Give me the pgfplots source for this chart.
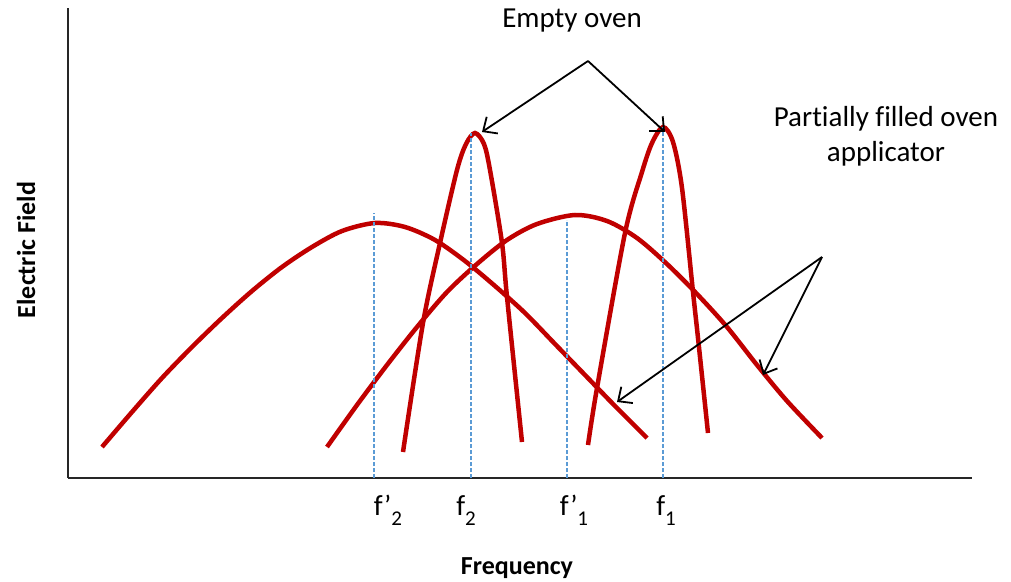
\documentclass[border=0pt]{standalone}
\usepackage{pgfplots}
\usepackage{fontspec}
\setmainfont{Carlito}[Ligatures=NoCommon]
\pgfplotsset{compat=1.18}
\usetikzlibrary{arrows.meta}

\definecolor{curvered}{RGB}{192,0,0}
\definecolor{guideblue}{RGB}{91,155,213}

\tikzset{
  callout/.style={black, line width=1.8pt, -{Straight Barb[length=11pt, width=20pt, line width=1.8pt]}},
  lbl/.style={anchor=base, font=\fontsize{29}{35}\selectfont},
}
\newcommand{\sub}[1]{\raisebox{-10pt}{\fontsize{21}{21}\selectfont #1}}

\begin{document}
\begin{tikzpicture}
\begin{axis}[
    scale only axis,
    width=904pt, height=470pt,
    xmin=68, xmax=972, ymin=0, ymax=470,
    axis lines=left,
    axis line style={-, line width=1.4pt, black!85},
    xtick=\empty, ytick=\empty,
    clip=false,
]
% partially filled oven (wide, shifted down)
\addplot [curvered, line width=4.5pt, smooth] coordinates {
    (102,31) (132,66) (162,100) (192,131) (222,160) (252,187) (282,211)
    (312,231) (342,247) (375,255) (405,251) (435,238) (465,217) (495,192)
    (525,165) (555,134) (585,103) (615,72) (647,40)};
\addplot [curvered, line width=4.5pt, smooth] coordinates {
    (327,31) (357,73) (387,113) (417,151) (447,186) (477,214) (507,238)
    (537,254) (575,263) (607,257) (637,240) (667,214) (697,184) (727,151)
    (757,113) (787,77) (822,40)};
% empty oven (narrow)
\addplot [curvered, line width=4.5pt, smooth] coordinates {
    (403,26) (423,155) (440,235) (457,308) (466,334) (475,345) (484,334)
    (490,308) (502,235) (507,181) (522,36)};
\addplot [curvered, line width=4.5pt, smooth] coordinates {
    (588,33) (597,90) (625,245) (642,306) (652,335) (663,351) (673,336)
    (682,290) (693,186) (698,140) (708,45)};
% guide lines
\addplot [guideblue, line width=1.2pt, dash pattern=on 4pt off 2pt] coordinates {(374,0) (374,265)};
\addplot [guideblue, line width=1.2pt, dash pattern=on 4pt off 2pt] coordinates {(471,0) (471,345)};
\addplot [guideblue, line width=1.2pt, dash pattern=on 4pt off 2pt] coordinates {(567,0) (567,258)};
\addplot [guideblue, line width=1.2pt, dash pattern=on 4pt off 2pt] coordinates {(663,0) (663,351)};

% callouts
\draw [callout] (axis cs:588,417) -- (axis cs:482,346);
\draw [callout] (axis cs:588,417) -- (axis cs:665,346);
\draw [callout] (axis cs:822,221) -- (axis cs:617,76);
\draw [callout] (axis cs:822,221) -- (axis cs:763,103);

\node [lbl] at (axis cs:572,450) {Empty oven};
\node [lbl, align=center] at (axis cs:886,316) {Partially filled oven\\applicator};

% frequency labels
\node [lbl] at (axis cs:388,-37) {f’\sub{2}};
\node [lbl] at (axis cs:466,-37) {f\sub{2}};
\node [lbl] at (axis cs:574,-37) {f’\sub{1}};
\node [lbl] at (axis cs:666,-37) {f\sub{1}};

\node [anchor=base, font=\fontsize{26}{31}\selectfont\bfseries] at (axis cs:517,-96) {Frequency};
\node [rotate=90, font=\fontsize{26}{31}\selectfont\bfseries] at (axis cs:26,228) {Electric Field};
\end{axis}
\pgfresetboundingbox
\path [use as bounding box] (-68pt,-103pt) rectangle (943pt,478pt);
\end{tikzpicture}
\end{document}
